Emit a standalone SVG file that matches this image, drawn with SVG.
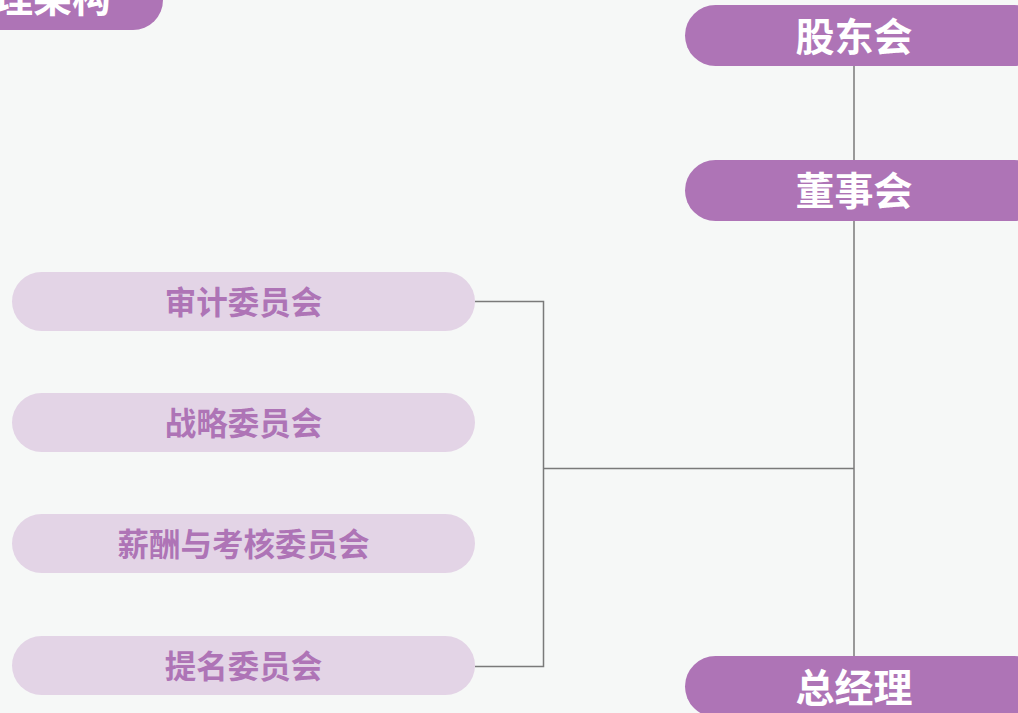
<svg xmlns="http://www.w3.org/2000/svg" width="1018" height="713" viewBox="0 0 1018 713">
<style>
.bg{fill:#f6f8f7}
.main rect{fill:#ae74b6}
.main text{fill:#ffffff;font-family:"Noto Sans CJK SC","Noto Sans",sans-serif;font-weight:bold;font-size:39px;text-anchor:middle;dominant-baseline:central}
.sub rect{fill:#e3d4e6}
.sub text{fill:#ae74b6;font-family:"Noto Sans CJK SC","Noto Sans",sans-serif;font-weight:bold;font-size:31.5px;text-anchor:middle;dominant-baseline:central}
.conn{fill:none;stroke:#7a7a7a;stroke-width:1.5}
</style>
<rect class="bg" x="0" y="0" width="1018" height="713"/>
<g id="title">
<path d="M-20,-40 H163 V0 A30,30 0 0 1 133,30 H-20 Z" fill="#ae74b6"/>
<text x="-6" y="-5" fill="#ffffff" font-family="'Noto Sans CJK SC','Noto Sans',sans-serif" font-weight="bold" font-size="39" dominant-baseline="central">理架构</text>
</g>
<g id="connectors" class="conn">
<line x1="854" y1="66" x2="854" y2="160"/>
<line x1="854" y1="220" x2="854" y2="656"/>
<polyline points="475,301.5 543.5,301.5 543.5,666.5 475,666.5"/>
<line x1="543.5" y1="468.5" x2="854" y2="468.5"/>
</g>
<g id="n-gudonghui" class="main"><rect x="685" y="5" width="360" height="61" rx="30.5"/><text x="854" y="33.5">股东会</text></g>
<g id="n-dongshihui" class="main"><rect x="685" y="160" width="360" height="61" rx="30.5"/><text x="854" y="188">董事会</text></g>
<g id="n-zongjingli" class="main"><rect x="685" y="656" width="360" height="61" rx="30.5"/><text x="854" y="684.5">总经理</text></g>
<g id="n-shenji" class="sub"><rect x="12" y="272" width="463" height="59" rx="29.5"/><text x="243.5" y="299.5">审计委员会</text></g>
<g id="n-zhanlue" class="sub"><rect x="12" y="393" width="463" height="59" rx="29.5"/><text x="243.5" y="420.5">战略委员会</text></g>
<g id="n-xinchou" class="sub"><rect x="12" y="514" width="463" height="59" rx="29.5"/><text x="243.5" y="541.5">薪酬与考核委员会</text></g>
<g id="n-timing" class="sub"><rect x="12" y="636" width="463" height="59" rx="29.5"/><text x="243.5" y="663.5">提名委员会</text></g>
</svg>
